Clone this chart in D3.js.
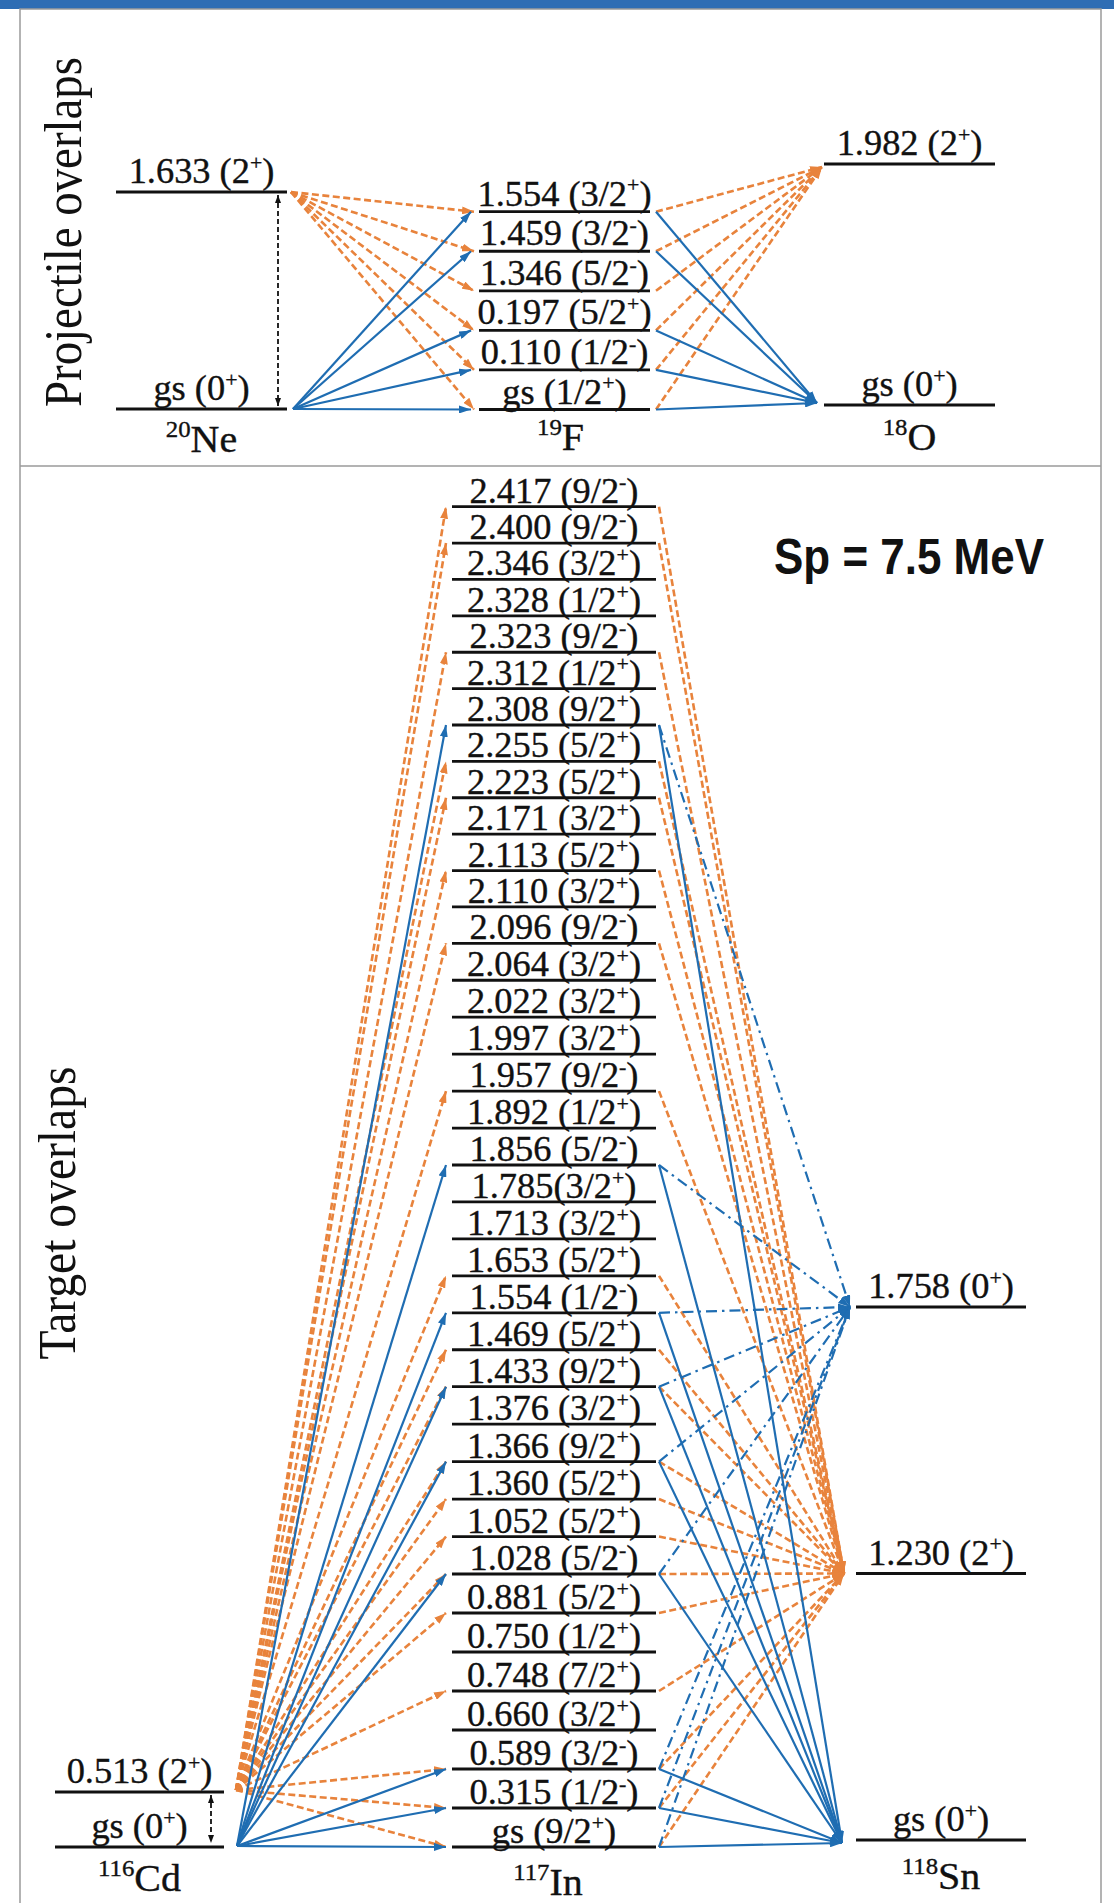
<!DOCTYPE html>
<html>
<head>
<meta charset="utf-8">
<script src="https://cdn.jsdelivr.net/npm/d3@7"></script>
<style>
  body { margin: 0; background: #fff; }
  svg { display: block; }
</style>
</head>
<body>
<svg id="chart" width="1114" height="1903"></svg>
<script>
// ── Data ─────────────────────────────────────────────────────────────────────

// projectile overlaps: 20Ne -> 19F -> 18O
const neLevels = ["1.633 (2+)", "gs (0+)"];
const fLevels = ["1.554 (3/2+)", "1.459 (3/2-)", "1.346 (5/2-)", "0.197 (5/2+)", "0.110 (1/2-)", "gs (1/2+)"];
const oLevels = ["1.982 (2+)", "gs (0+)"];
const fOrange = ["1.554", "1.459", "1.346", "0.197", "0.110", "gs"];
const fBlue = ["1.554", "1.459", "0.197", "0.110", "gs"];

// target overlaps: 116Cd -> 117In -> 118Sn
const cdLevels = ["0.513 (2+)", "gs (0+)"];
const inLevels = [
  "2.417 (9/2-)", "2.400 (9/2-)", "2.346 (3/2+)", "2.328 (1/2+)", "2.323 (9/2-)",
  "2.312 (1/2+)", "2.308 (9/2+)", "2.255 (5/2+)", "2.223 (5/2+)", "2.171 (3/2+)",
  "2.113 (5/2+)", "2.110 (3/2+)", "2.096 (9/2-)", "2.064 (3/2+)", "2.022 (3/2+)",
  "1.997 (3/2+)", "1.957 (9/2-)", "1.892 (1/2+)", "1.856 (5/2-)", "1.785(3/2+)",
  "1.713 (3/2+)", "1.653 (5/2+)", "1.554 (1/2-)", "1.469 (5/2+)", "1.433 (9/2+)",
  "1.376 (3/2+)", "1.366 (9/2+)", "1.360 (5/2+)", "1.052 (5/2+)", "1.028 (5/2-)",
  "0.881 (5/2+)", "0.750 (1/2+)", "0.748 (7/2+)", "0.660 (3/2+)", "0.589 (3/2-)",
  "0.315 (1/2-)", "gs (9/2+)"
];
const snLevels = ["1.758 (0+)", "1.230 (2+)", "gs (0+)"];
const inOrange = ["2.417", "2.400", "2.323", "2.255", "2.223", "2.113", "2.096", "1.957", "1.653", "1.469",
  "1.433", "1.366", "1.360", "1.052", "1.028", "0.881", "0.748", "0.589", "0.315", "gs"];
const inBlue = ["2.308", "1.856", "1.554", "1.433", "1.366", "1.028", "0.589", "0.315", "gs"];
const inDashDot = ["2.308", "1.856", "1.554", "1.433", "1.366", "1.028", "0.589", "0.315", "gs"];

// ── Style ────────────────────────────────────────────────────────────────────

const ORANGE = "#E8833C";
const BLUE = "#1F6DB2";
const SERIF = "'Liberation Serif', 'Times New Roman', serif";
const LABEL_SIZE = 35;
const TXT_SCALE = 1.04; // original labels are slightly stretched

const svg = d3.select("#chart");
const key = (s) => s.split(/[ (]/)[0];

// ── Layout scales ────────────────────────────────────────────────────────────

const col = {
  ne: [116, 287], f: [479, 650], o: [824, 995],
  cd: [55, 224], in: [452, 656], sn: [856, 1026],
};
const yNe = d3.scalePoint().domain(neLevels.map(key)).range([192, 409]);
const yF = d3.scalePoint().domain(fLevels.map(key)).range([211.7, 409.5]);
const yO = d3.scalePoint().domain(oLevels.map(key)).range([164, 405]);
const yCd = d3.scalePoint().domain(cdLevels.map(key)).range([1792, 1847]);
const yInIdx = d3.scaleLinear().domain([0, 12, 24, 29, 36]).range([506.7, 943.3, 1386.7, 1574, 1847]);
const yIn = (k) => yInIdx(inLevels.map(key).indexOf(k));
const ySn = d3.scalePoint().domain(snLevels.map(key)).range([1307, 1840]);

// ── Frame ────────────────────────────────────────────────────────────────────

svg.append("rect").attr("x", 0).attr("y", 0).attr("width", 1114).attr("height", 9).attr("fill", "#2E6DB4");
svg.append("rect").attr("x", 20).attr("y", 9).attr("width", 1081).attr("height", 1910)
  .attr("fill", "none").attr("stroke", "#9a9a9a").attr("stroke-width", 1.5);
svg.append("line").attr("x1", 20).attr("x2", 1101).attr("y1", 466).attr("y2", 466)
  .attr("stroke", "#9a9a9a").attr("stroke-width", 1.5);

// ── Markers ──────────────────────────────────────────────────────────────────

const defs = svg.append("defs");
function marker(id, color, w, h) {
  defs.append("marker")
    .attr("id", id).attr("viewBox", `0 0 ${w} ${h}`)
    .attr("refX", w).attr("refY", h / 2)
    .attr("markerWidth", w).attr("markerHeight", h)
    .attr("markerUnits", "userSpaceOnUse").attr("orient", "auto-start-reverse")
    .append("path").attr("d", `M0,0L${w},${h / 2}L0,${h}z`).attr("fill", color);
}
marker("arr-orange", ORANGE, 12, 8);
marker("arr-blue", BLUE, 12, 8);
marker("arr-black", "#111", 8, 6);

// ── Drawing helpers ──────────────────────────────────────────────────────────

const arrowStyles = {
  orange: { stroke: ORANGE, width: 2.6, dash: "7,3.5", marker: "arr-orange" },
  blue: { stroke: BLUE, width: 2.2, dash: null, marker: "arr-blue" },
  dashdot: { stroke: BLUE, width: 2.2, dash: "11,5,2.5,5", marker: "arr-blue" },
};

function drawArrows(g, data, style, start, end) {
  const st = arrowStyles[style];
  g.selectAll(null)
    .data(data)
    .join("line")
    .attr("x1", (d) => start(d)[0]).attr("y1", (d) => start(d)[1])
    .attr("x2", (d) => end(d)[0]).attr("y2", (d) => end(d)[1])
    .attr("stroke", st.stroke).attr("stroke-width", st.width)
    .attr("stroke-dasharray", st.dash)
    .attr("marker-end", `url(#${st.marker})`);
}

function labelText(sel, str, size) {
  const m = str.match(/^(.*?)([+-])\)$/);
  sel.append("tspan").text(m[1]);
  sel.append("tspan").attr("font-size", size * 0.6).attr("dy", -size * 0.38).text(m[2]);
  sel.append("tspan").attr("dy", size * 0.38).text(")");
}

function drawLevels(g, levels, xr, yFn, offset) {
  g.selectAll(null)
    .data(levels)
    .join("line")
    .attr("x1", xr[0]).attr("x2", xr[1])
    .attr("y1", (d) => yFn(key(d))).attr("y2", (d) => yFn(key(d)))
    .attr("stroke", "#111").attr("stroke-width", 2.8);
  g.selectAll(null)
    .data(levels)
    .join("text")
    .attr("transform", (d) => `translate(${(xr[0] + xr[1]) / 2},${yFn(key(d)) - offset}) scale(${TXT_SCALE},1)`)
    .attr("text-anchor", "middle")
    .attr("font-family", SERIF).attr("font-size", LABEL_SIZE).attr("fill", "#111")
    .attr("stroke", "#111").attr("stroke-width", 0.35)
    .each(function (d) { labelText(d3.select(this), d, LABEL_SIZE); });
}

function isotope(g, mass, sym, cx, y) {
  const t = g.append("text")
    .attr("transform", `translate(${cx},${y}) scale(1.08,1)`)
    .attr("text-anchor", "middle").attr("font-family", SERIF).attr("fill", "#111")
    .attr("stroke", "#111").attr("stroke-width", 0.35);
  t.append("tspan").attr("font-size", 23).attr("dy", -15).text(mass);
  t.append("tspan").attr("font-size", 37).attr("dy", 15).text(sym);
}

function doubleArrow(g, x, y1, y2) {
  g.append("line")
    .attr("x1", x).attr("x2", x).attr("y1", y1).attr("y2", y2)
    .attr("stroke", "#111").attr("stroke-width", 1.8).attr("stroke-dasharray", "5,3")
    .attr("marker-start", "url(#arr-black)").attr("marker-end", "url(#arr-black)");
}

const cx = (c) => (col[c][0] + col[c][1]) / 2;

// ── Projectile panel ─────────────────────────────────────────────────────────

const gTop = svg.append("g");

drawArrows(gTop, fOrange, "orange",
  () => [col.ne[1] + 4, yNe("1.633")], (d) => [col.f[0] - 5, yF(d)]);
drawArrows(gTop, fBlue, "blue",
  () => [col.ne[1] + 6, yNe("gs")], (d) => [col.f[0] - 8, yF(d)]);
drawArrows(gTop, fOrange, "orange",
  (d) => [col.f[1] + 6, yF(d)], () => [col.o[0] - 2, yO("1.982") + 3]);
drawArrows(gTop, fBlue, "blue",
  (d) => [col.f[1] + 6, yF(d)], () => [col.o[0] - 7, yO("gs") - 2]);

drawLevels(gTop, neLevels, col.ne, yNe, 9);
drawLevels(gTop, fLevels, col.f, yF, 6);
drawLevels(gTop, oLevels, col.o, yO, 9);
doubleArrow(gTop, col.ne[1] - 9, yNe("1.633") + 3, yNe("gs") - 3);

isotope(gTop, "20", "Ne", cx("ne"), 452);
isotope(gTop, "19", "F", cx("f") - 4, 450);
isotope(gTop, "18", "O", cx("o"), 450);

gTop.append("text")
  .attr("transform", "translate(81,232) rotate(-90)")
  .attr("text-anchor", "middle").attr("font-family", SERIF).attr("font-size", 52)
  .attr("textLength", 350).attr("lengthAdjust", "spacingAndGlyphs").attr("fill", "#111")
  .text("Projectile overlaps");

// ── Target panel ─────────────────────────────────────────────────────────────

const gBot = svg.append("g");

drawArrows(gBot, inOrange, "orange",
  () => [col.cd[1] + 12, yCd("0.513") - 2], (d) => [col.in[0] - 6, yIn(d)]);
drawArrows(gBot, inBlue, "blue",
  () => [col.cd[1] + 13, yCd("gs") - 1], (d) => [col.in[0] - 6, yIn(d)]);
drawArrows(gBot, inOrange, "orange",
  (d) => [col.in[1] + 3, yIn(d)], () => [col.sn[0] - 12, ySn("1.230")]);
drawArrows(gBot, inBlue, "blue",
  (d) => [col.in[1] + 3, yIn(d)], () => [col.sn[0] - 14, ySn("gs") + 3]);
drawArrows(gBot, inDashDot, "dashdot",
  (d) => [col.in[1] + 3, yIn(d)], () => [col.sn[0] - 6, ySn("1.758")]);

drawLevels(gBot, cdLevels, col.cd, yCd, 9);
drawLevels(gBot, inLevels, col.in, yIn, 4);
drawLevels(gBot, snLevels, col.sn, ySn, 9);
doubleArrow(gBot, col.cd[1] - 13, yCd("0.513") + 3, yCd("gs") - 4);

isotope(gBot, "116", "Cd", cx("cd"), 1891);
isotope(gBot, "117", "In", cx("in") - 6, 1895);
isotope(gBot, "118", "Sn", cx("sn"), 1889);

gBot.append("text")
  .attr("transform", "translate(75,1213) rotate(-90)")
  .attr("text-anchor", "middle").attr("font-family", SERIF).attr("font-size", 52)
  .attr("textLength", 293).attr("lengthAdjust", "spacingAndGlyphs").attr("fill", "#111")
  .text("Target overlaps");

gBot.append("text")
  .attr("x", 774).attr("y", 574)
  .attr("font-family", "'Liberation Sans', Arial, sans-serif").attr("font-weight", "bold")
  .attr("font-size", 50).attr("textLength", 270).attr("lengthAdjust", "spacingAndGlyphs")
  .attr("fill", "#111")
  .text("Sp = 7.5 MeV");
</script>
</body>
</html>
